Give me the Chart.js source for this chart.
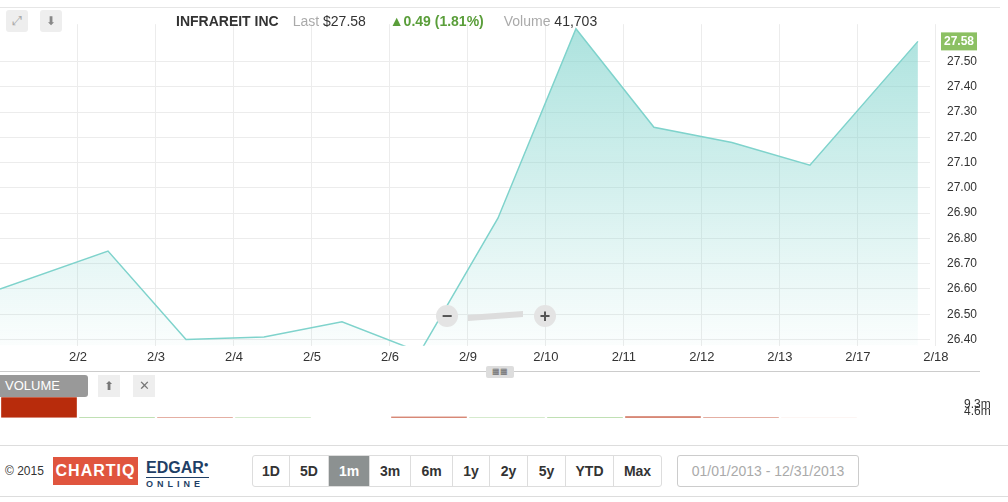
<!DOCTYPE html><html><head><meta charset="utf-8">
<script src="https://cdn.jsdelivr.net/npm/chart.js@4"></script>
<style>
body{margin:0;width:1008px;height:502px;background:#fff;font-family:"Liberation Sans",Arial,sans-serif;position:relative;overflow:hidden}
.abs{position:absolute}
#c1{position:absolute;left:0;top:0;width:1000px;height:370px}
#c2{position:absolute;left:0;top:370px;width:1000px;height:75px}
.btn{display:inline-block;height:30px;line-height:30px;text-align:center;border-right:1px solid #ddd;font-size:14px;font-weight:bold;color:#333}
</style></head><body>
<canvas id="c1" width="1000" height="370"></canvas>
<canvas id="c2" width="1000" height="75"></canvas>
<div class="abs" style="left:0;top:7px;width:1000px;border-top:1px solid #e6e6e6"></div>
<div class="abs" style="left:6px;top:10px;width:22px;height:22px;background:#eee;border-radius:3px;color:#aaa;font-size:13px;text-align:center;line-height:22px">⤢</div>
<div class="abs" style="left:40px;top:10px;width:22px;height:22px;background:#eee;border-radius:3px;color:#888;font-size:12px;text-align:center;line-height:22px">⬇</div>
<div class="abs" style="left:176px;top:13px;font-size:14px;white-space:nowrap">
<b style="color:#333">INFRAREIT INC</b><span style="color:#aaa;margin-left:14px">Last</span> <span style="color:#333">$27.58</span>
<b style="color:#5a9e3a;margin-left:20px">▲0.49 (1.81%)</b><span style="color:#aaa;margin-left:20px">Volume</span> <span style="color:#333">41,703</span></div>
<div class="abs" style="left:436px;top:305px;width:22px;height:22px;border-radius:11px;background:#e4e4e4;color:#555;font-size:18px;line-height:22px;text-align:center;font-weight:bold">−</div>
<div class="abs" style="left:468px;top:313px;width:55px;height:6px;background:#ddd;transform:skewY(-4deg)"></div>
<div class="abs" style="left:534px;top:305px;width:22px;height:22px;border-radius:11px;background:#e4e4e4;color:#555;font-size:18px;line-height:22px;text-align:center;font-weight:bold">+</div>
<div class="abs" style="left:0;top:371px;width:980px;border-top:1px solid #ccc"></div>
<div class="abs" style="left:486px;top:366px;width:28px;height:12px;background:#ddd;border-radius:2px;font-size:8px;color:#666;text-align:center;line-height:12px">▦▦</div>
<div class="abs" style="left:0;top:375px;width:88px;height:22px;background:#999;color:#fff;font-size:13px;line-height:22px;padding-left:5px;box-sizing:border-box;border-radius:0 3px 3px 0">VOLUME</div>
<div class="abs" style="left:98px;top:375px;width:22px;height:22px;background:#eee;color:#777;font-size:12px;text-align:center;line-height:22px">⬆</div>
<div class="abs" style="left:133px;top:375px;width:22px;height:22px;background:#eee;color:#777;font-size:13px;text-align:center;line-height:22px">✕</div>
<div class="abs" style="left:0;top:445px;width:1008px;height:50px;border-top:1px solid #ddd;border-bottom:1px solid #ddd;background:#fff"></div>
<div class="abs" style="left:5px;top:464px;font-size:12px;color:#333">© 2015</div>
<div class="abs" style="left:53px;top:457px;width:85px;height:28px;background:#e0553e;color:#fff;font-weight:bold;font-size:16px;line-height:28px;text-align:center;letter-spacing:1px">CHARTIQ</div>
<div class="abs" style="left:146px;top:456px;color:#1f3f66;font-weight:bold;font-size:16px;line-height:18px">EDGAR<sup style="font-size:8px">●</sup><div style="font-size:9px;letter-spacing:4px;border-top:1px solid #1f3f66;line-height:12px">ONLINE</div></div>
<div class="abs" style="left:252px;top:455px;height:30px;border:1px solid #ddd;border-radius:3px;white-space:nowrap;font-size:0">
<span class="btn" style="width:36px">1D</span><span class="btn" style="width:38px">5D</span><span class="btn" style="width:40px;background:#8c9191;color:#fff">1m</span><span class="btn" style="width:40px">3m</span><span class="btn" style="width:41px">6m</span><span class="btn" style="width:36px">1y</span><span class="btn" style="width:37px">2y</span><span class="btn" style="width:37px">5y</span><span class="btn" style="width:47px">YTD</span><span class="btn" style="width:47px;border-right:none">Max</span></div>
<div class="abs" style="left:677px;top:455px;width:180px;height:30px;border:1px solid #ccc;border-radius:3px;font-size:14px;color:#aaa;line-height:30px;text-align:center">01/01/2013 - 12/31/2013</div>
<script>
const dayPos=[-0.385,1,2,3,4,5,6,7,8,9,10,11.385];
const prices=[26.60,26.75,26.40,26.41,26.47,26.35,26.88,27.63,27.24,27.18,27.09,27.58];
const tickLabels=['2/2','2/3','2/4','2/5','2/6','2/9','2/10','2/11','2/12','2/13','2/17','2/18'];
const tickPos=[0.615,1.615,2.615,3.615,4.615,5.615,6.615,7.615,8.615,9.615,10.615,11.615];
const volumes=[16e6,0.6e6,0.4e6,0.4e6,0.1e6,0.8e6,0.45e6,0.6e6,1.0e6,0.35e6,0.15e6,0];
const volColors=['#b82c0c','#8fc87a','#b82c0c','#8fc87a','#dcefd5','#b82c0c','#8fc87a','#8fc87a','#b82c0c','#b82c0c','#f0c9c0','#fff'];
const lastPrice=27.58;
Chart.defaults.font.family='"Liberation Sans",Arial,sans-serif';
const lastLabel={id:'ll',afterDraw(c){const y=c.scales.y.getPixelForValue(lastPrice),ctx=c.ctx;ctx.save();ctx.fillStyle='#8cc063';ctx.fillRect(941,y-9,36,18);ctx.fillStyle='#fff';ctx.font='bold 12px "Liberation Sans"';ctx.textBaseline='middle';ctx.fillText(lastPrice.toFixed(2),944,y);ctx.restore();}};
new Chart(document.getElementById('c1'),{type:'line',
data:{datasets:[{data:dayPos.map((x,i)=>({x,y:prices[i]})),borderColor:'#7fd3cc',borderWidth:1.5,pointRadius:0,tension:0,fill:'start',
backgroundColor:(ctx)=>{const a=ctx.chart.chartArea;if(!a)return 'rgba(127,211,204,0.3)';const g=ctx.chart.ctx.createLinearGradient(0,a.top,0,a.bottom);g.addColorStop(0,'rgba(127,211,204,0.65)');g.addColorStop(1,'rgba(127,211,204,0.03)');return g;}}]},
options:{responsive:false,maintainAspectRatio:false,animation:false,layout:{padding:{top:-20}},plugins:{legend:{display:false},tooltip:{enabled:false}},
scales:{x:{type:'linear',min:-0.385,max:11.54,afterBuildTicks:s=>{s.ticks=tickPos.map(v=>({value:v}));},
ticks:{callback:(v,i)=>tickLabels[i],color:'#333',font:{size:13},maxRotation:0,autoSkip:false,padding:4},grid:{color:'#ececec',drawTicks:false},border:{display:false}},
y:{position:'right',min:26.375,max:27.648,afterFit:s=>{s.width=70;},afterBuildTicks:s=>{const t=[];for(let v=26.4;v<27.55;v+=0.1)t.push({value:+v.toFixed(2)});s.ticks=t;},
ticks:{callback:v=>v.toFixed(2),color:'#333',font:{size:12},padding:17},grid:{color:'#ececec',drawTicks:false},border:{display:false}}}},plugins:[lastLabel]});
new Chart(document.getElementById('c2'),{type:'bar',
data:{labels:tickLabels,datasets:[{data:volumes,backgroundColor:volColors,barPercentage:0.97,categoryPercentage:1}]},
options:{responsive:false,maintainAspectRatio:false,animation:false,layout:{padding:{bottom:2,top:-6}},plugins:{legend:{display:false},tooltip:{enabled:false}},
scales:{x:{display:false},y:{position:'right',min:0,max:14.9e6,afterFit:s=>{s.width=64;},afterBuildTicks:s=>{s.ticks=[{value:4.6e6},{value:9.3e6}];},
ticks:{callback:v=>(v/1e6).toFixed(1)+'m',color:'#333',font:{size:12},padding:20},grid:{display:false},border:{display:false}}}}});
</script></body></html>
